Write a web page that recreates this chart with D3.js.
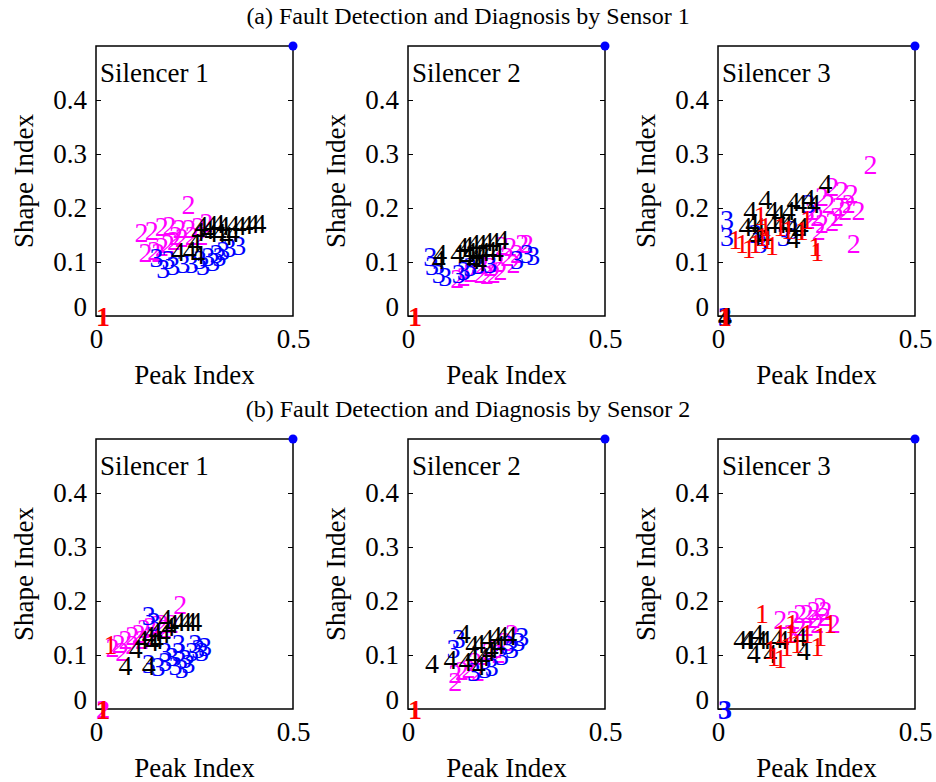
<!DOCTYPE html>
<meta charset="utf-8">
<style>
body { margin: 0; background: #fff; }
svg, svg text { font-family: "Liberation Serif", "Times New Roman", Times, serif; }
</style>
<body>
<script src="https://d3js.org/d3.v7.min.js"></script>
<script>
// class labels 1..4 and their colours
var classNames = ["1", "2", "3", "4"];
var classColors = ["#ff0000", "#ff00ff", "#0000ff", "#000000"];

var rowTitles = ["(a) Fault Detection and Diagnosis by Sensor 1", "(b) Fault Detection and Diagnosis by Sensor 2"];
var panelNames = ["Silencer 1", "Silencer 2", "Silencer 3"];
var yTicks = [0, 0.1, 0.2, 0.3, 0.4];
var xTicks = [0, 0.5];

// sensor 1 - silencer 1  [peak index, shape index]
var a1_c1 = [[0, 0]];
var a1_c2 = [[0.217,0.207],[0.098,0.155],[0.124,0.158],[0.149,0.165],[0.169,0.168],[0.194,0.162],[0.219,0.162],[0.242,0.165],[0.263,0.174],[0.130,0.122],[0.150,0.128],[0.165,0.135],[0.180,0.140],[0.200,0.145],[0.108,0.118],[0.140,0.118],[0.225,0.150],[0.250,0.150],[0.185,0.150]];
var a1_c3 = [[0.136,0.109],[0.153,0.088],[0.178,0.094],[0.204,0.098],[0.225,0.098],[0.246,0.104],[0.267,0.110],[0.288,0.116],[0.305,0.122],[0.321,0.126],[0.346,0.131],[0.280,0.101],[0.254,0.094],[0.296,0.110],[0.166,0.104]];
var a1_c4 = [[0.275,0.170],[0.292,0.172],[0.305,0.168],[0.330,0.170],[0.347,0.168],[0.364,0.170],[0.380,0.172],[0.397,0.172],[0.275,0.155],[0.296,0.155],[0.313,0.150],[0.330,0.155],[0.191,0.119],[0.220,0.122],[0.232,0.137],[0.242,0.156],[0.250,0.168],[0.242,0.113],[0.265,0.160]];

// sensor 1 - silencer 2
var a2_c1 = [[0, 0]];
var a2_c2 = [[0.221,0.131],[0.242,0.128],[0.272,0.135],[0.284,0.135],[0.234,0.110],[0.217,0.085],[0.200,0.079],[0.183,0.076],[0.166,0.079],[0.124,0.073],[0.107,0.070],[0.250,0.098],[0.259,0.116],[0.191,0.091],[0.170,0.095],[0.140,0.080],[0.210,0.100]];
var a2_c3 = [[0.039,0.110],[0.060,0.079],[0.077,0.073],[0.111,0.079],[0.124,0.085],[0.140,0.091],[0.284,0.116],[0.259,0.104],[0.191,0.098],[0.043,0.094],[0.300,0.112],[0.160,0.095]];
var a2_c4 = [[0.064,0.116],[0.060,0.104],[0.107,0.116],[0.119,0.128],[0.132,0.131],[0.149,0.135],[0.166,0.135],[0.183,0.138],[0.200,0.138],[0.221,0.141],[0.132,0.110],[0.149,0.104],[0.157,0.116],[0.165,0.101],[0.140,0.119],[0.174,0.119],[0.191,0.122],[0.208,0.119]];

// sensor 1 - silencer 3
var a3_c1 = [[0,0],[0.026,0.141],[0.043,0.135],[0.060,0.125],[0.077,0.135],[0.094,0.147],[0.106,0.141],[0.119,0.131],[0.090,0.187],[0.102,0.165],[0.229,0.128],[0.234,0.119],[0.208,0.178],[0.195,0.159],[0.160,0.160],[0.140,0.165]];
var a3_c2 = [[0.369,0.280],[0.327,0.135],[0.272,0.239],[0.297,0.233],[0.322,0.227],[0.339,0.196],[0.246,0.221],[0.263,0.209],[0.289,0.202],[0.305,0.196],[0.221,0.196],[0.234,0.184],[0.246,0.172],[0.272,0.175],[0.284,0.184],[0.212,0.178],[0.238,0.159],[0.314,0.209]];
var a3_c3 = [[0,0],[0.005,0.178],[0.005,0.147],[0.077,0.153],[0.090,0.135],[0.149,0.147],[0.212,0.209],[0.170,0.160]];
var a3_c4 = [[0,0],[0.255,0.246],[0.064,0.196],[0.102,0.215],[0.119,0.196],[0.136,0.190],[0.162,0.196],[0.174,0.212],[0.191,0.209],[0.212,0.218],[0.225,0.209],[0.052,0.165],[0.069,0.172],[0.085,0.165],[0.102,0.150],[0.140,0.172],[0.155,0.170],[0.170,0.165],[0.187,0.159],[0.174,0.144],[0.077,0.147],[0.120,0.172],[0.195,0.165]];

// sensor 2 - silencer 1
var b1_c1 = [[0,0],[0.019,0.119]];
var b1_c2 = [[0,0],[0.196,0.193],[0.040,0.122],[0.057,0.128],[0.074,0.137],[0.091,0.140],[0.104,0.149],[0.120,0.152],[0.137,0.156],[0.150,0.159],[0.049,0.106],[0.074,0.119],[0.099,0.128],[0.125,0.137],[0.158,0.149],[0.175,0.159],[0.024,0.113]];
var b1_c3 = [[0.116,0.174],[0.129,0.162],[0.116,0.085],[0.141,0.078],[0.158,0.088],[0.175,0.097],[0.192,0.106],[0.184,0.081],[0.209,0.093],[0.226,0.106],[0.242,0.112],[0.259,0.115],[0.234,0.122],[0.251,0.106],[0.200,0.075],[0.217,0.085],[0.158,0.106],[0.192,0.122]];
var b1_c4 = [[0.057,0.081],[0.116,0.081],[0.083,0.112],[0.099,0.128],[0.116,0.137],[0.133,0.143],[0.158,0.168],[0.175,0.159],[0.192,0.162],[0.209,0.162],[0.221,0.162],[0.234,0.162],[0.137,0.128],[0.154,0.140],[0.167,0.152],[0.125,0.125]];

// sensor 2 - silencer 2
var b2_c1 = [[0, 0]];
var b2_c2 = [[0.102,0.051],[0.102,0.066],[0.119,0.072],[0.136,0.075],[0.153,0.088],[0.170,0.100],[0.187,0.106],[0.204,0.112],[0.229,0.125],[0.246,0.140],[0.212,0.103],[0.160,0.070]];
var b2_c3 = [[0.111,0.131],[0.098,0.112],[0.263,0.125],[0.246,0.112],[0.221,0.100],[0.195,0.078],[0.178,0.075],[0.272,0.134],[0.236,0.120],[0.150,0.070]];
var b2_c4 = [[0.043,0.085],[0.090,0.091],[0.128,0.088],[0.124,0.140],[0.145,0.119],[0.162,0.122],[0.183,0.131],[0.204,0.137],[0.221,0.137],[0.242,0.137],[0.162,0.081],[0.145,0.100],[0.187,0.106],[0.212,0.119],[0.174,0.097],[0.195,0.112]];

// sensor 2 - silencer 3
var b3_c1 = [[0.094,0.177],[0.124,0.097],[0.140,0.094],[0.115,0.110],[0.157,0.115],[0.166,0.140],[0.183,0.122],[0.234,0.115],[0.242,0.134],[0.267,0.159],[0.170,0.159],[0.140,0.140],[0.208,0.140]];
var b3_c2 = [[0.140,0.165],[0.174,0.165],[0.191,0.177],[0.208,0.177],[0.225,0.183],[0.242,0.189],[0.255,0.183],[0.276,0.159],[0.234,0.159],[0.208,0.152],[0.190,0.152],[0.166,0.140],[0.225,0.168],[0.251,0.171]];
var b3_c3 = [[0, 0]];
var b3_c4 = [[0.039,0.128],[0.060,0.128],[0.073,0.103],[0.090,0.128],[0.100,0.128],[0.115,0.103],[0.132,0.131],[0.145,0.128],[0.191,0.134],[0.200,0.109],[0.081,0.140],[0.056,0.128]];

// reference point drawn as a dot in every panel
var refPoint = [0.5, 0.5];

var panels = [
  [[a1_c1, a1_c2, a1_c3, a1_c4], [a2_c1, a2_c2, a2_c3, a2_c4], [a3_c1, a3_c2, a3_c3, a3_c4]],
  [[b1_c1, b1_c2, b1_c3, b1_c4], [b2_c1, b2_c2, b2_c3, b2_c4], [b3_c1, b3_c2, b3_c3, b3_c4]]
];

var serif = '"Liberation Serif", "Times New Roman", Times, serif';
var width = 936, height = 782;
var rowTops = [46, 439], colLefts = [96, 408, 718];
var pw = 197, ph = 270, fs = 27, ms = 28;
var drawOrder = [1, 2, 3, 0];

var svg = d3.select("body").append("svg")
    .attr("width", width)
    .attr("height", height)
    .attr("font-family", serif);

rowTops.forEach(function(top, r) {
  svg.append("text")
    .attr("x", 468)
    .attr("y", top - 22)
    .attr("text-anchor", "middle")
    .attr("font-family", serif)
    .style("font-size", "24px")
    .text(rowTitles[r]);

  colLefts.forEach(function(left, c) {
    var x = d3.scaleLinear().domain([0, 0.5]).range([left, left + pw]);
    var y = d3.scaleLinear().domain([0, 0.5]).range([top + ph, top]);
    var g = svg.append("g");

    // box
    g.append("rect")
      .attr("x", x(0)).attr("y", y(0.5))
      .attr("width", x(0.5) - x(0)).attr("height", y(0) - y(0.5))
      .attr("fill", "none").attr("stroke", "#000").attr("stroke-width", 1.5);

    var yl = g.append("g")
      .attr("transform", "translate(" + x(0) + ",0)")
      .call(d3.axisLeft(y).tickValues(yTicks).tickFormat(d3.format("")).tickSize(-5).tickSizeOuter(0).tickPadding(9));
    yl.attr("font-family", serif);
    yl.select(".domain").remove();
    yl.selectAll("text").style("font-size", fs + "px").attr("fill", "#000")
      .attr("dy", function(d) { return d === 0 ? "-0.03em" : "0.32em"; });
    yl.selectAll("line").attr("stroke", "#000");

    var yr = g.append("g")
      .attr("transform", "translate(" + x(0.5) + ",0)")
      .call(d3.axisRight(y).tickValues(yTicks.slice(1)).tickFormat("").tickSize(-5).tickSizeOuter(0));
    yr.select(".domain").remove();
    yr.selectAll("line").attr("stroke", "#000");

    var xl = g.append("g")
      .attr("transform", "translate(0," + y(0) + ")")
      .call(d3.axisBottom(x).tickValues(xTicks).tickFormat(d3.format("")).tickSize(0).tickPadding(13));
    xl.attr("font-family", serif);
    xl.select(".domain").remove();
    xl.selectAll("text").style("font-size", fs + "px").attr("fill", "#000");

    g.append("text")
      .attr("x", (x(0) + x(0.5)) / 2)
      .attr("y", y(0) + 68)
      .attr("text-anchor", "middle")
      .style("font-size", fs + "px")
      .text("Peak Index");

    g.append("text")
      .attr("transform", "translate(" + (x(0) - 63) + "," + ((y(0) + y(0.5)) / 2) + ") rotate(-90)")
      .attr("text-anchor", "middle")
      .style("font-size", fs + "px")
      .text("Shape Index");

    g.append("text")
      .attr("x", x(0) + 4)
      .attr("y", y(0.5) + 36)
      .style("font-size", fs + "px")
      .text(panelNames[c]);

    var sets = panels[r][c];
    drawOrder.forEach(function(k) {
      g.append("g").selectAll("text")
        .data(sets[k])
        .join("text")
          .attr("x", function(d) { return x(d[0]); })
          .attr("y", function(d) { return y(d[1]); })
          .attr("dominant-baseline", "central")
          .attr("fill", classColors[k])
          .style("font-size", ms + "px")
          .style("font-weight", function(d) { return d[0] === 0 && d[1] === 0 ? "bold" : "normal"; })
          .text(classNames[k]);
    });

    g.append("circle")
      .attr("cx", x(refPoint[0]))
      .attr("cy", y(refPoint[1]))
      .attr("r", 4.5)
      .attr("fill", "#0000ff");
  });
});
</script>
</body>
